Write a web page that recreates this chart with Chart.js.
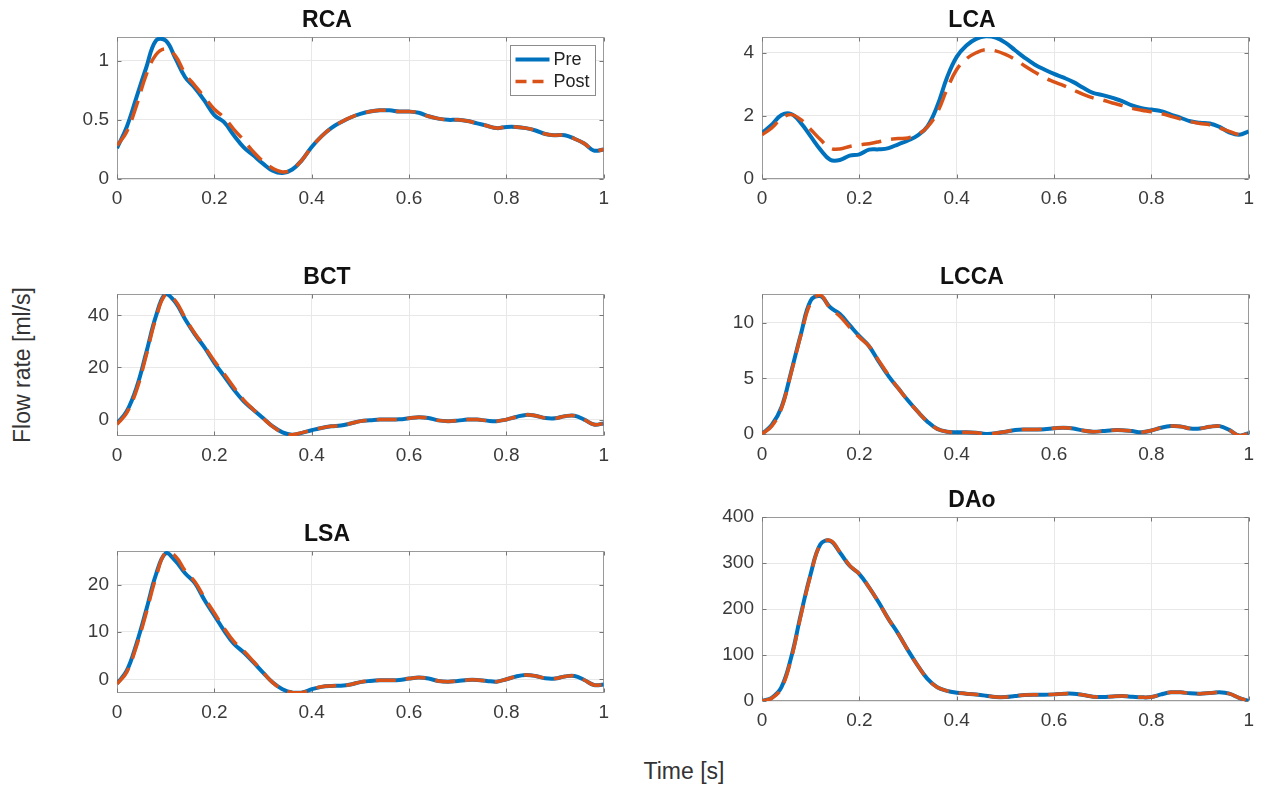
<!DOCTYPE html>
<html>
<head>
<meta charset="utf-8">
<script src="https://cdn.jsdelivr.net/npm/chart.js@4.4.1/dist/chart.umd.min.js"></script>
<style>
  body { margin: 0; background: #fff; width: 1262px; height: 786px; overflow: hidden; position: relative;
         font-family: 'Liberation Sans', Arial, Helvetica, sans-serif; }
  canvas { position: absolute; }
  .lbl { position: absolute; color: #333; font-size: 23px; white-space: nowrap; transform: translate(-50%, -50%); }
  #ylab { left: 22px; top: 365px; transform: translate(-50%, -50%) rotate(-90deg); }
  #xlab { left: 684px; top: 771px; }
</style>
</head>
<body>
<canvas id="rca"></canvas>
<canvas id="lca"></canvas>
<canvas id="bct"></canvas>
<canvas id="lcca"></canvas>
<canvas id="lsa"></canvas>
<canvas id="dao"></canvas>
<div class="lbl" id="ylab">Flow rate [ml/s]</div>
<div class="lbl" id="xlab">Time [s]</div>
<script>
// time samples [s]
const times = [0, 0.02, 0.04, 0.06, 0.08, 0.10, 0.12, 0.14, 0.16, 0.18, 0.20, 0.22, 0.24, 0.26, 0.28, 0.30,
  0.32, 0.34, 0.36, 0.38, 0.40, 0.42, 0.44, 0.46, 0.48, 0.50, 0.52, 0.54, 0.56, 0.58, 0.60, 0.62, 0.64,
  0.66, 0.68, 0.70, 0.72, 0.74, 0.76, 0.78, 0.80, 0.82, 0.84, 0.86, 0.88, 0.90, 0.92, 0.94, 0.96, 0.98, 1.00];
const xTicks = [0, 0.2, 0.4, 0.6, 0.8, 1];
const seriesNames = ['Pre', 'Post'];

// RCA
const rcaPre = [0.26,0.44,0.69,0.94,1.17,1.17,1.02,0.86,0.77,0.66,0.54,0.48,0.37,0.27,0.20,0.13,0.07,0.05,0.08,0.16,0.27,0.36,0.43,0.48,0.52,0.55,0.57,0.58,0.58,0.57,0.57,0.56,0.53,0.51,0.50,0.50,0.49,0.47,0.45,0.43,0.44,0.44,0.43,0.41,0.38,0.37,0.37,0.34,0.30,0.24,0.25];
const rcaPost = [0.28,0.40,0.62,0.88,1.05,1.10,1.04,0.89,0.79,0.69,0.59,0.52,0.42,0.33,0.23,0.15,0.09,0.06,0.08,0.16,0.27,0.36,0.43,0.48,0.52,0.55,0.57,0.58,0.58,0.57,0.57,0.56,0.53,0.51,0.50,0.50,0.49,0.47,0.45,0.43,0.44,0.44,0.43,0.41,0.38,0.37,0.37,0.34,0.30,0.24,0.25];
const rcaRange = [0, 1.2];
const rcaTicks = [0, 0.5, 1];

// LCA
const lcaPre = [1.46,1.72,2.03,2.06,1.77,1.35,0.93,0.61,0.60,0.74,0.78,0.93,0.94,0.98,1.10,1.22,1.38,1.67,2.31,3.21,3.87,4.23,4.44,4.52,4.48,4.32,4.08,3.84,3.63,3.47,3.33,3.21,3.07,2.89,2.73,2.66,2.57,2.47,2.33,2.24,2.20,2.15,2.04,1.94,1.83,1.78,1.76,1.65,1.48,1.40,1.51];
const lcaPost = [1.40,1.62,1.92,2.04,1.88,1.57,1.25,0.98,0.95,1.03,1.08,1.12,1.18,1.25,1.28,1.30,1.41,1.65,2.10,2.84,3.47,3.81,4.00,4.10,4.06,3.95,3.79,3.58,3.39,3.21,3.08,2.96,2.82,2.68,2.57,2.50,2.41,2.33,2.24,2.18,2.13,2.07,1.99,1.90,1.82,1.76,1.72,1.62,1.51,1.41,1.46];
const lcaRange = [0, 4.5];
const lcaTicks = [0, 2, 4];

// BCT
const bctPre = [-1.5,3.2,12.2,25.6,39.7,48.3,45.0,38.5,32.7,27.6,21.8,16.7,11.5,7.1,3.8,0.6,-2.6,-4.9,-5.8,-5.1,-4.1,-3.2,-2.6,-2.3,-1.5,-0.6,-0.3,0,0,0.1,0.5,0.9,0.6,-0.3,-0.6,-0.4,0,0,-0.4,-0.6,0,1.0,1.8,1.5,0.6,0.5,1.3,1.5,0,-1.9,-1.5];
const bctPost = [-1.8,2.6,11.2,24.6,38.9,48.0,45.6,39.0,33.0,28.0,22.5,17.6,12.4,7.6,3.9,0.5,-2.7,-5.0,-5.8,-5.0,-4.0,-3.2,-2.6,-2.3,-1.5,-0.6,-0.3,0,0,0.1,0.5,0.9,0.6,-0.3,-0.6,-0.4,0,0,-0.4,-0.6,0,1.0,1.8,1.5,0.6,0.5,1.3,1.5,0,-1.9,-1.5];
const bctRange = [-6.3, 48.2];
const bctTicks = [0, 20, 40];

// LCCA
const lccaPre = [0,0.8,2.4,5.6,9.0,12.0,12.4,11.4,10.8,9.8,8.8,7.9,6.5,5.2,4.1,3.0,2.0,1.1,0.45,0.2,0.15,0.15,0.1,0,0.05,0.2,0.35,0.4,0.4,0.42,0.5,0.55,0.48,0.3,0.2,0.25,0.33,0.33,0.25,0.15,0.3,0.55,0.7,0.67,0.48,0.48,0.64,0.7,0.36,-0.15,0.06];
const lccaPost = [0,0.7,2.3,5.5,8.9,11.8,12.5,11.3,10.6,9.6,8.7,7.9,6.6,5.3,4.1,3.0,2.0,1.1,0.45,0.2,0.15,0.15,0.1,0,0.05,0.2,0.35,0.4,0.4,0.42,0.5,0.55,0.48,0.3,0.2,0.25,0.33,0.33,0.25,0.15,0.3,0.55,0.7,0.67,0.48,0.48,0.64,0.7,0.36,-0.15,0.06];
const lccaRange = [-0.1, 12.6];
const lccaTicks = [0, 5, 10];

// LSA
const lsaPre = [-0.9,1.8,7.5,14.6,22.1,26.6,25.0,22.4,20.3,16.7,13.5,10.3,7.5,5.7,3.6,1.4,-0.7,-2.1,-2.8,-2.8,-2.1,-1.6,-1.4,-1.35,-1.1,-0.6,-0.35,-0.2,-0.2,-0.15,0.15,0.35,0.15,-0.35,-0.5,-0.35,-0.15,-0.15,-0.35,-0.5,0,0.6,0.9,0.7,0.2,0.15,0.6,0.7,-0.15,-1.2,-1.1];
const lsaPost = [-1.0,1.5,7.0,14.0,21.5,26.8,26.0,22.9,20.6,17.2,14.0,10.8,8.0,6.0,3.8,1.5,-0.7,-2.1,-2.8,-2.8,-2.1,-1.6,-1.4,-1.35,-1.1,-0.6,-0.35,-0.2,-0.2,-0.15,0.15,0.35,0.15,-0.35,-0.5,-0.35,-0.15,-0.15,-0.35,-0.5,0,0.6,0.9,0.7,0.2,0.15,0.6,0.7,-0.15,-1.2,-1.1];
const lsaRange = [-2.9, 27.1];
const lsaTicks = [0, 10, 20];

// DAo
const daoPre = [0,7,30,95,189,276,341,348,323,294,276,247,214,178,146,110,77,48,30,22,18,16,14,11.5,8.7,8.7,11,13,13.7,13.7,14.4,15.9,15.9,13,9.4,8.7,10,10.8,9.4,8,8.7,14.4,18.8,18.8,16.6,15.9,17.3,18.8,15.9,7,0];
const daoPost = [0,6,28,92,186,274,340,349,324,295,276,247,214,178,146,110,77,48,30,22,18,16,14,11.5,8.7,8.7,11,13,13.7,13.7,14.4,15.9,15.9,13,9.4,8.7,10,10.8,9.4,8,8.7,14.4,18.8,18.8,16.6,15.9,17.3,18.8,15.9,7,0];
const daoRange = [0, 400];
const daoTicks = [0, 100, 200, 300, 400];

const FONT = "'Liberation Sans', Arial, Helvetica, sans-serif";
const AXIS_W = 70, XAXIS_H = 36, TITLE_H = 32, PAD_R = 10;
const BLUE = '#0072BD', ORANGE = '#D95319';

// matlab style box with inward ticks
const axesBox = {
    id: 'axesBox',
    beforeDatasetsDraw(chart) {
        const { ctx, chartArea: a, scales } = chart;
        const l = Math.round(a.left) + 0.5, r = Math.round(a.right) - 0.5;
        const t = Math.round(a.top) + 0.5, b = Math.round(a.bottom) - 0.5;
        ctx.save();
        ctx.strokeStyle = '#9a9a9a';
        ctx.lineWidth = 1;
        ctx.strokeRect(l, t, r - l, b - t);
        ctx.strokeStyle = '#777';
        ctx.beginPath();
        scales.x.ticks.forEach(tk => {
            const px = Math.round(scales.x.getPixelForValue(tk.value)) + 0.5;
            ctx.moveTo(px, b); ctx.lineTo(px, b - 4);
            ctx.moveTo(px, t); ctx.lineTo(px, t + 4);
        });
        scales.y.ticks.forEach(tk => {
            const py = Math.round(scales.y.getPixelForValue(tk.value)) + 0.5;
            ctx.moveTo(l, py); ctx.lineTo(l + 4, py);
            ctx.moveTo(r, py); ctx.lineTo(r - 4, py);
        });
        ctx.stroke();
        ctx.restore();
    }
};

const legendBox = {
    id: 'legendBox',
    afterDatasetsDraw(chart) {
        const { ctx, chartArea: a } = chart;
        const w = 85, h = 50;
        const x0 = Math.round(a.right - 9 - w) + 0.5, y0 = Math.round(a.top + 8) + 0.5;
        ctx.save();
        ctx.fillStyle = '#fff';
        ctx.fillRect(x0, y0, w, h);
        ctx.strokeStyle = '#8c8c8c';
        ctx.lineWidth = 1;
        ctx.strokeRect(x0, y0, w, h);
        chart.data.datasets.forEach((ds, i) => {
            const yy = y0 + 14 + i * 22;
            ctx.strokeStyle = ds.borderColor;
            ctx.lineWidth = ds.borderWidth;
            ctx.setLineDash(ds.borderDash ? [11, 6] : []);
            ctx.beginPath();
            ctx.moveTo(x0 + 5, yy);
            ctx.lineTo(x0 + 39, yy);
            ctx.stroke();
            ctx.setLineDash([]);
            ctx.fillStyle = '#222';
            ctx.font = '18px ' + FONT;
            ctx.textBaseline = 'middle';
            ctx.fillText(ds.label, x0 + 43, yy + 1);
        });
        ctx.restore();
    }
};

function drawPanel(id, title, pre, post, range, yTicks, box, withLegend) {
    const cv = document.getElementById(id);
    cv.width = AXIS_W + box.w + PAD_R;
    cv.height = TITLE_H + box.h + XAXIS_H;
    cv.style.left = (box.left - AXIS_W) + 'px';
    cv.style.top = (box.top - TITLE_H) + 'px';

    const tickFont = { family: FONT, size: 19 };
    new Chart(cv, {
        type: 'line',
        data: {
            datasets: [{
                label: seriesNames[0],
                data: times.map((t, i) => ({ x: t, y: pre[i] })),
                borderColor: BLUE,
                borderWidth: 4,
                order: 2
            }, {
                label: seriesNames[1],
                data: times.map((t, i) => ({ x: t, y: post[i] })),
                borderColor: ORANGE,
                borderWidth: 3.5,
                borderDash: [20, 10],
                order: 1
            }]
        },
        options: {
            responsive: false,
            animation: false,
            devicePixelRatio: 1,
            layout: { padding: { right: PAD_R } },
            elements: { point: { radius: 0 }, line: { tension: 0.4, borderCapStyle: 'butt' } },
            plugins: {
                legend: { display: false },
                tooltip: { enabled: false },
                title: {
                    display: true,
                    text: title,
                    color: '#111',
                    font: { family: FONT, size: 23, weight: 'bold', lineHeight: '24px' },
                    padding: { top: 4, bottom: 4 }
                }
            },
            scales: {
                x: {
                    type: 'linear',
                    min: 0,
                    max: 1,
                    grid: { color: '#e8e8e8', drawTicks: false },
                    border: { display: false },
                    ticks: {
                        padding: 8, color: '#3a3a3a', font: tickFont, maxRotation: 0, autoSkip: false,
                        callback: v => String(+(+v).toFixed(2))
                    },
                    afterBuildTicks: s => { s.ticks = xTicks.map(v => ({ value: v })); },
                    afterFit: s => { s.height = XAXIS_H; }
                },
                y: {
                    min: range[0],
                    max: range[1],
                    grid: { color: '#e8e8e8', drawTicks: false },
                    border: { display: false },
                    ticks: {
                        padding: 8, color: '#3a3a3a', font: tickFont,
                        callback: v => String(v)
                    },
                    afterBuildTicks: s => { s.ticks = yTicks.map(v => ({ value: v })); },
                    afterFit: s => { s.width = AXIS_W; }
                }
            }
        },
        plugins: withLegend ? [axesBox, legendBox] : [axesBox]
    });
}

drawPanel('rca', 'RCA', rcaPre, rcaPost, rcaRange, rcaTicks, { left: 117, top: 37, w: 490, h: 142 }, true);
drawPanel('lca', 'LCA', lcaPre, lcaPost, lcaRange, lcaTicks, { left: 762, top: 37, w: 490, h: 142 }, false);
drawPanel('bct', 'BCT', bctPre, bctPost, bctRange, bctTicks, { left: 117, top: 294, w: 490, h: 142 }, false);
drawPanel('lcca', 'LCCA', lccaPre, lccaPost, lccaRange, lccaTicks, { left: 762, top: 294, w: 490, h: 141 }, false);
drawPanel('lsa', 'LSA', lsaPre, lsaPost, lsaRange, lsaTicks, { left: 117, top: 551, w: 490, h: 142 }, false);
drawPanel('dao', 'DAo', daoPre, daoPost, daoRange, daoTicks, { left: 762, top: 517, w: 490, h: 184 }, false);
</script>
</body>
</html>
